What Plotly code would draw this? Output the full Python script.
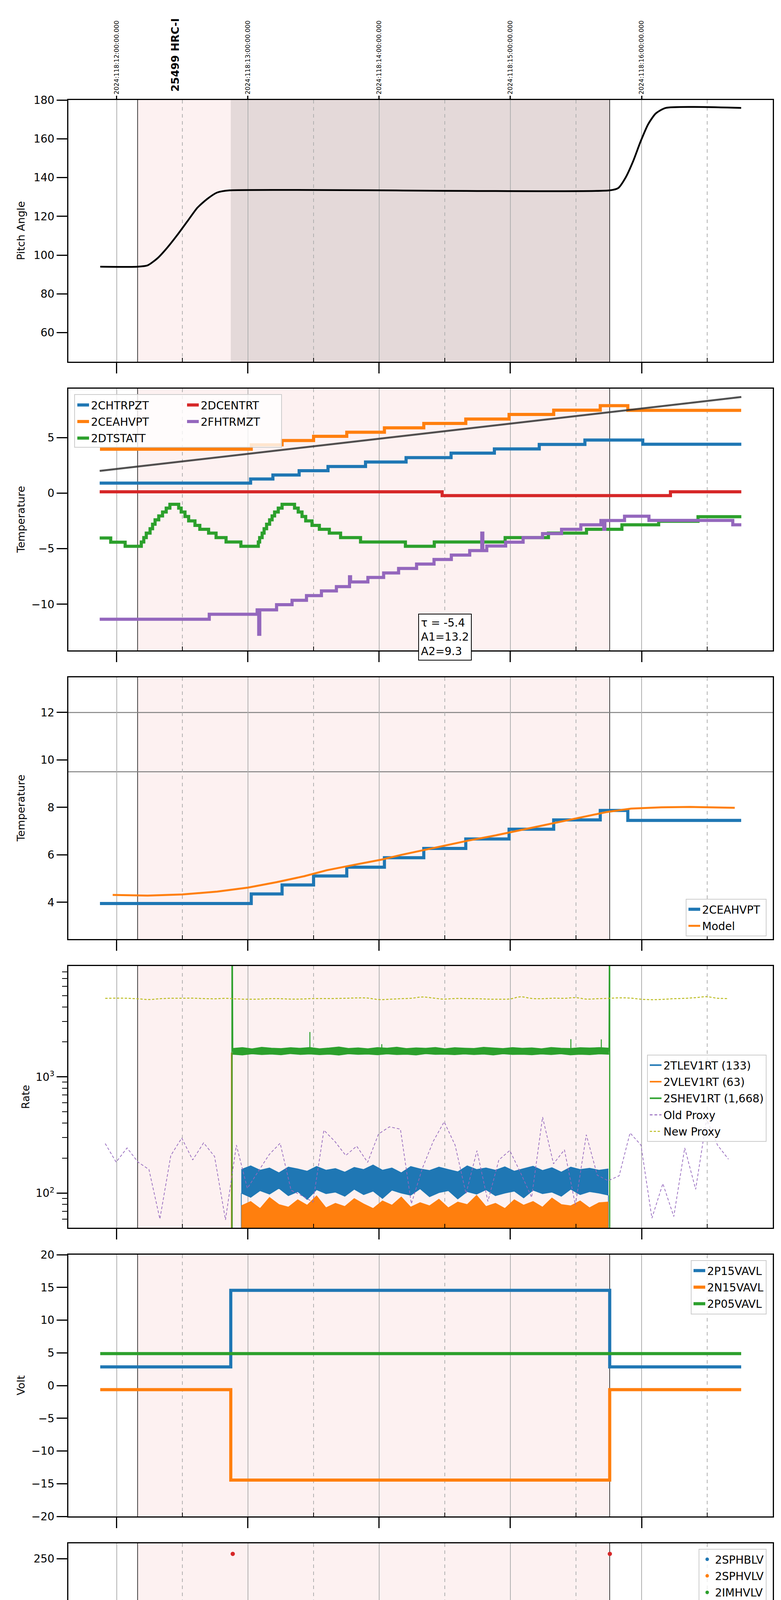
import numpy as np
import plotly.graph_objects as go
from plotly.subplots import make_subplots

# ---------------- time axis (local hours, 2024-04-27) ----------------
x_range = [7.631, 13.0]
hour_ticks = [8, 9, 10, 11, 12]
hour_labels = ['08h', '09h', '10h', '11h', '12h']
half_ticks = [8.5, 9.5, 10.5, 11.5, 12.5]
utc_labels = ['2024:118:12:00:00.000', '2024:118:13:00:00.000', '2024:118:14:00:00.000',
              '2024:118:15:00:00.000', '2024:118:16:00:00.000']
obs_start, obs_stop = 8.159, 11.757
dwell_start = 8.869
obsid_label = '25499 HRC-I'
obsid_t = 8.443

# ---------------- panel 1: pitch ----------------
pitch_t = [7.874, 8.159, 8.235, 8.311, 8.387, 8.463, 8.538, 8.614, 8.690, 8.766, 8.861,
           11.758, 11.822, 11.879, 11.936, 11.993, 12.050, 12.107, 12.183, 12.759]
pitch_v = [94.0, 94.0, 94.7, 98.4, 104.0, 110.5, 117.4, 124.4, 129.0, 132.3, 133.4,
           133.4, 134.6, 140.1, 148.5, 158.7, 167.5, 173.0, 175.9, 175.9]

# ---------------- panel 2: temperatures ----------------
chtrpzt_t = [7.870, 9.020, 9.190, 9.390, 9.610, 9.896, 10.205, 10.548, 10.878, 11.220, 11.568, 12.009, 12.760]
chtrpzt_v = [0.90, 1.27, 1.63, 2.02, 2.40, 2.80, 3.20, 3.60, 3.98, 4.38, 4.78, 4.40, 4.40]
ceahvpt_t = [7.872, 9.025, 9.260, 9.500, 9.753, 10.040, 10.340, 10.660, 10.990, 11.330, 11.685, 11.895, 12.759]
ceahvpt_v = [3.95, 4.35, 4.73, 5.11, 5.48, 5.88, 6.27, 6.67, 7.08, 7.47, 7.87, 7.45, 7.45]
dtstatt_t = [7.870, 7.954, 8.064, 8.187, 8.206, 8.225, 8.254, 8.273, 8.292, 8.320, 8.349, 8.377, 8.405,
             8.472, 8.491, 8.520, 8.548, 8.596, 8.633, 8.700, 8.757, 8.833, 8.946,
             9.079, 9.089, 9.108, 9.123, 9.142, 9.165, 9.184, 9.203, 9.231, 9.260,
             9.355, 9.383, 9.412, 9.440, 9.488, 9.544, 9.620, 9.706, 9.858,
             10.200, 10.420, 10.960, 11.290, 11.580, 11.850, 12.130, 12.430, 12.760]
dtstatt_v = [-4.04, -4.41, -4.78, -4.4, -4.0, -3.6, -3.2, -2.8, -2.4, -2.05, -1.7, -1.35, -1.0,
             -1.35, -1.7, -2.1, -2.5, -2.9, -3.25, -3.6, -4.0, -4.4, -4.78,
             -4.4, -4.0, -3.6, -3.2, -2.8, -2.4, -2.05, -1.7, -1.35, -1.0,
             -1.35, -1.7, -2.1, -2.5, -2.9, -3.25, -3.6, -4.0, -4.4,
             -4.78, -4.4, -4.0, -3.6, -3.25, -2.85, -2.53, -2.12, -2.12]
dcentrt_t = [7.870, 10.480, 12.220, 12.760]
dcentrt_v = [0.12, -0.22, 0.12, 0.12]
fhtrmzt_t = [7.870, 8.705, 9.070, 9.082, 9.090, 9.218, 9.336, 9.446, 9.560, 9.674, 9.774, 9.782,
             9.914, 10.034, 10.148, 10.285, 10.418, 10.550, 10.690, 10.782, 10.790, 10.820, 10.964,
             11.097, 11.245, 11.390, 11.537, 11.690, 11.712, 11.720, 11.870, 12.056, 12.695, 12.760]
fhtrmzt_v = [-11.35, -10.9, -10.5, -12.7, -10.5, -10.04, -9.64, -9.22, -8.80, -8.41, -7.52, -7.99,
             -7.59, -7.18, -6.78, -6.38, -5.97, -5.57, -5.17, -3.6, -5.17, -4.76, -4.41,
             -4.0, -3.64, -3.25, -2.85, -2.46, -3.25, -2.46, -2.08, -2.45, -2.85, -2.85]
trend_t = [7.870, 12.760]
trend_v = [2.0, 8.65]
fit_text = 'τ = -5.4<br>A1=13.2<br>A2=9.3'

# ---------------- panel 3: model ----------------
model_t = [7.969, 8.235, 8.500, 8.765, 9.000, 9.220, 9.430, 9.600, 9.830, 10.020, 10.170, 10.340, 10.510,
           10.680, 10.870, 11.040, 11.210, 11.390, 11.560, 11.730, 11.920, 12.150, 12.370, 12.520, 12.710]
model_v = [4.31, 4.28, 4.33, 4.45, 4.62, 4.85, 5.10, 5.35, 5.60, 5.80, 6.00, 6.20, 6.40,
           6.60, 6.80, 7.00, 7.20, 7.40, 7.60, 7.80, 7.95, 8.00, 8.02, 8.00, 7.98]
limit_levels = [12.0, 9.5]

# ---------------- panel 4: rates ----------------
proxy_t0 = 7.912           # first proxy sample, one sample every 5 minutes
old_proxy = [267, 185, 245, 185, 160, 60, 211, 298, 193, 271,
             207, 59, 259, 110, 154, 215, 269, 106, 95, 84,
             348, 279, 211, 254, 184, 323, 372, 355, 81, 163,
             279, 411, 259, 99, 232, 85, 193, 233, 149, 92,
             451, 179, 236, 79, 318, 143, 128, 141, 330, 259,
             61, 121, 63, 245, 108, 435, 259, 196]
new_proxy = [4730, 4750, 4740, 4690, 4620, 4700, 4740, 4740, 4750, 4710,
             4690, 4730, 4680, 4650, 4660, 4700, 4700, 4660, 4670, 4710,
             4710, 4720, 4740, 4770, 4760, 4620, 4650, 4700, 4740, 4860,
             4760, 4660, 4720, 4710, 4700, 4660, 4650, 4670, 4880, 4720,
             4700, 4750, 4730, 4800, 4660, 4700, 4730, 4780, 4760, 4650,
             4610, 4640, 4700, 4730, 4800, 4890, 4740, 4720]
# envelopes of the noisy rate telemetry
tlev_span = [8.949, 11.747]
tlev_hi = [160, 172, 158, 165, 150, 168, 162, 155, 170, 158, 163, 152, 167, 160, 175, 158, 165, 150, 170, 162,
           157, 168, 160, 153, 172, 160, 165, 158, 169, 155, 163, 171, 157, 166, 152, 168, 160, 164, 158, 162]
tlev_lo = [100, 92, 105, 98, 110, 95, 103, 88, 107, 99, 102, 94, 108, 97, 104, 90, 106, 100, 96, 109,
           93, 101, 105, 89, 103, 98, 107, 95, 100, 104, 91, 106, 99, 102, 94, 108, 97, 103, 100, 96]
vlev_hi = [78, 85, 74, 92, 80, 76, 88, 79, 95, 75, 82, 77, 90, 81, 74, 86, 79, 93, 76, 83,
           78, 89, 75, 84, 80, 96, 77, 82, 74, 88, 79, 85, 76, 91, 80, 78, 86, 75, 83, 84]
shev_span = [8.884, 11.752]
shev_lo = [1560, 1540, 1575, 1550, 1565, 1545, 1580, 1555, 1570, 1548, 1562, 1535, 1575, 1558, 1566, 1544,
           1572, 1552, 1560, 1540, 1578, 1556, 1563, 1547, 1570, 1550, 1566, 1538, 1574, 1555, 1561, 1545,
           1568, 1552, 1576, 1543, 1559, 1549, 1571, 1560]
shev_hi = [1760, 1790, 1745, 1800, 1770, 1755, 1785, 1765, 1795, 1750, 1775, 1810, 1760, 1780, 1750, 1790,
           1770, 1805, 1755, 1780, 1765, 1795, 1750, 1785, 1770, 1760, 1800, 1775, 1755, 1790, 1765, 1780,
           1750, 1795, 1770, 1760, 1785, 1775, 1790, 1770]
shev_spike_t = [9.472, 10.020, 11.461, 11.693]
shev_spike_v = [2430, 1910, 2110, 2100]
shev_edge_t = [8.878, 8.878, 8.884, None, 11.752, 11.757, 11.757]
shev_edge_v = [10, 100000, 1650, None, 1650, 100000, 10]
vlev_edge_t = [8.874, 8.874, 8.880, 8.880]
vlev_edge_v = [40, 1600, 1600, 40]
rate_floor = 40

# ---------------- panel 5: voltages ----------------
volt_t = [7.874, 8.869, 11.757, 12.759]
p15_v = [2.85, 14.55, 2.85, 2.85]
n15_v = [-0.62, -14.45, -0.62, -0.62]
p05_t = [7.874, 12.759]
p05_v = [4.88, 4.88]

# ---------------- panel 6: HV monitors ----------------
imhblv_t = [8.884, 8.890, 8.890, 8.897, 8.899, 8.911, 8.922, 8.933, 8.945, 11.594, 11.632, 11.646, 11.708, 11.758]
imhblv_v = [255, 127, 119, 106, 104, 101, 97, 93, 89, 80, 80, 80, 80, 255]
imhblv_lvl_t = [8.948, 11.758]
imhblv_lvl_v = [86.2, 86.2]
imhvlv_t = [8.888, 8.890, 8.905, 8.916, 8.928, 8.939, 11.583, 11.605, 11.636, 11.704]
imhvlv_v = [100, 98, 95, 90, 86, 83, 127, 127, 127, 127]
imhvlv_lvl_t = [8.950, 11.758]
imhvlv_lvl_v = [79.5, 79.5]

# ---------------- panel 7: detector temps ----------------
spinatm_t = [8.890, 8.892, 9.013, 9.050, 9.089, 9.108, 9.127, 9.146, 9.169, 9.191, 9.214, 9.241, 9.267, 9.290,
             9.336, 9.374, 9.400, 9.431, 9.476, 9.518, 9.575, 9.639, 9.723, 9.852, 10.072,
             11.507, 11.515, 11.530, 11.545, 11.560, 11.575, 11.700, 11.710, 11.720, 11.735]
spinatm_v = [-3, 2.2, 1.65, 2.2, 2.7, 3.2, 3.6, 4.1, 4.6, 5.1, 5.6, 6.2, 6.7, 7.3,
             6.7, 6.2, 5.6, 5.1, 4.6, 4.1, 3.6, 3.2, 2.7, 2.2, 1.75,
             -3, 1.75, -3, 1.75, -3, 1.75, -3, 1.75, -3, -3]
sphvatm_t = [8.869, 9.658, 9.962, 10.158, 10.165, 10.228, 10.512, 10.797, 11.082, 11.268, 11.275, 11.378,
             11.507, 11.520, 11.535, 11.550, 11.565, 11.580, 11.630, 11.637, 11.700, 11.707, 11.720, 11.740]
sphvatm_v = [12.30, 12.64, 12.97, 13.30, 12.97, 13.28, 13.65, 13.99, 14.32, 14.60, 14.32, 14.66,
             8.70, 14.66, 8.70, 14.66, 8.70, 14.66, -3.0, 14.66, -3.0, 14.66, 15.0, 15.0]
iminatm_t = [8.892, 9.279, 10.892, 10.938, 10.944, 11.516, 11.530, 11.550, 11.570, 11.590, 11.610,
             11.630, 11.650, 11.670, 11.690, 11.700, 11.710, 11.735]
iminatm_v = [-0.95, -0.50, -0.05, -0.50, -0.05, 1.75, -0.05, 1.75, -0.05, 1.75, -0.05,
             1.75, -0.05, 1.75, -3.0, 1.75, -0.05, -0.05]
imhvatm_t = [8.871, 8.873, 9.077, 9.203, 9.305, 9.420, 9.552, 9.685, 9.840, 10.008,
             10.140, 10.147, 10.190, 10.390, 10.607, 10.835, 11.101, 11.378,
             11.507, 11.520, 11.535, 11.550, 11.565, 11.580, 11.595, 11.610,
             11.632, 11.640, 11.650, 11.665, 11.690, 11.697, 11.710, 11.725, 11.752, 11.758]
imhvatm_v = [-3.0, 11.64, 11.97, 12.31, 12.64, 12.97, 13.31, 13.65, 13.99, 14.32,
             14.65, 14.32, 14.65, 15.00, 15.34, 15.68, 16.01, 16.35,
             14.60, 16.35, 14.60, 16.35, 14.60, 16.35, 14.60, 16.35,
             -3.0, 16.80, 14.60, 16.80, 8.90, 16.80, 14.60, 16.80, -3.0, 20.0]

# ---------------- panel 8: FEA temps ----------------
fea_fhtrmzt_t = [7.874, 8.698, 9.077, 9.080, 9.214, 9.336, 9.449, 9.556, 9.670, 9.776,
                 9.780, 9.909, 10.030, 10.152, 10.285, 10.415, 10.551, 10.683, 10.783, 10.790,
                 10.968, 11.101, 11.253, 11.393, 11.740, 11.879, 12.061, 12.702, 12.759]
fea_fhtrmzt_v = [-11.34, -10.91, -12.50, -10.48, -10.05, -9.64, -9.22, -8.80, -8.39, -7.60,
                 -7.95, -7.57, -7.17, -6.78, -6.37, -5.98, -5.57, -5.18, -3.62, -4.81,
                 -4.42, -4.03, -3.66, -3.25, -2.51, -2.12, -2.51, -2.88, -2.88]
fradpyt_t = [9.174, 9.176, 9.305, 9.423, 9.545, 9.658, 9.780, 9.917, 10.045, 10.182, 10.315,
             10.463, 10.596, 10.747, 10.899, 11.051, 11.203, 11.359, 11.522, 11.700, 12.207, 12.759]
fradpyt_v = [-13.0, -11.77, -11.34, -10.91, -10.48, -10.05, -9.64, -9.22, -8.80, -8.39, -7.99,
             -7.57, -7.18, -6.78, -6.37, -5.98, -5.59, -5.20, -4.81, -4.42, -4.81, -4.81]
fepratm_t = [8.867, 8.869, 8.918, 8.956, 9.002, 9.051, 9.108, 9.188, 9.283, 9.385,
             9.488, 9.601, 9.715, 9.829, 9.951, 10.083, 10.208, 10.353, 10.490, 10.634,
             10.786, 10.938, 11.097, 11.264, 11.431, 11.518, 11.530, 11.545, 11.560, 11.575,
             11.590, 11.605, 11.620, 11.640, 11.660, 11.680, 11.700, 11.720, 11.735]
fepratm_v = [-13.0, -11.13, -10.71, -10.26, -9.82, -9.39, -8.96, -8.53, -8.10, -7.70,
             -7.28, -6.86, -6.45, -6.02, -5.61, -5.20, -4.79, -4.38, -3.96, -3.53,
             -3.09, -2.69, -2.26, -1.84, -1.38, -6.04, -1.38, -6.04, -1.38, -6.04,
             -1.38, -6.04, -1.38, -6.04, -1.38, -6.50, -1.38, -6.04, -6.04]
fe00atm_t = [8.956, 9.089, 9.185, 9.259, 9.354, 9.449, 9.533, 9.563, 9.567, 9.620,
             9.715, 9.780, 9.784, 9.810, 9.913, 10.008, 10.106, 10.208, 10.315, 10.417,
             10.524, 10.613, 10.616, 10.747, 10.860, 10.979, 11.101, 11.222, 11.348, 11.469,
             11.520, 11.535, 11.550, 11.565, 11.580, 11.595, 11.610, 11.625, 11.632, 11.640,
             11.655, 11.670, 11.685, 11.700, 11.710, 11.725, 11.740, 11.752, 11.758]
fe00atm_v = [-11.90, -11.55, -11.18, -10.81, -10.43, -10.05, -9.66, -10.90, -9.66, -9.29,
             -8.92, -8.60, -8.92, -8.55, -8.18, -7.83, -7.46, -7.11, -6.76, -6.39,
             -6.05, -5.00, -5.70, -5.35, -5.00, -4.66, -4.31, -3.97, -3.64, -3.31,
             -1.00, -3.35, -1.00, -3.35, -1.00, -3.35, -1.00, -3.35, -13.0, -1.00,
             -3.35, -1.00, -3.35, -13.0, -1.00, -2.00, -1.00, -13.0, 0.0]

# ---------------- page geometry ----------------
W, H = 2000, 6200
L, R, T, B = 167, 29, 248, 109
PW, PH = W - L - R, H - T - B
PANEL_H, GAP = 670, 69


def px(x):
    return (x - L) / PW


def py(y):
    return (H - B - y) / PH


C_BLUE, C_ORANGE, C_GREEN, C_RED, C_PURPLE, C_OLIVE = '#1f77b4', '#ff7f0e', '#2ca02c', '#d62728', '#9467bd', '#bcbd22'
FONT = 'DejaVu Sans'

fig = make_subplots(rows=8, cols=1, vertical_spacing=GAP / PH)


def step(t, v, color, name, row, legend=None, width=8, show=True):
    fig.add_trace(go.Scatter(x=t, y=v, mode='lines', line=dict(color=color, width=width, shape='hv'),
                             name=name, legend=legend, legendgroup=name, showlegend=show), row=row, col=1)


# panel 1
fig.add_trace(go.Scatter(x=pitch_t, y=pitch_v, mode='lines', showlegend=False,
                         line=dict(color='black', width=4.5, shape='spline', smoothing=0.6)), row=1, col=1)

# panel 2
step(chtrpzt_t, chtrpzt_v, C_BLUE, '2CHTRPZT', 2, 'legend')
step(ceahvpt_t, ceahvpt_v, C_ORANGE, '2CEAHVPT', 2, 'legend')
step(dtstatt_t, dtstatt_v, C_GREEN, '2DTSTATT', 2, 'legend')
step(dcentrt_t, dcentrt_v, C_RED, '2DCENTRT', 2, 'legend2')
step(fhtrmzt_t, fhtrmzt_v, C_PURPLE, '2FHTRMZT', 2, 'legend2')
fig.add_trace(go.Scatter(x=trend_t, y=trend_v, mode='lines', showlegend=False,
                         line=dict(color='rgba(50,50,50,0.85)', width=5)), row=2, col=1)

# panel 3
step(ceahvpt_t, ceahvpt_v, C_BLUE, '2CEAHVPT ', 3, 'legend3')
fig.add_trace(go.Scatter(x=model_t, y=model_v, mode='lines', name='Model', legend='legend3',
                         legendgroup='model', line=dict(color=C_ORANGE, width=5)), row=3, col=1)

# panel 4 (rate): noisy telemetry drawn as envelopes
tg = np.linspace(tlev_span[0], tlev_span[1], len(tlev_hi))
sg = np.linspace(shev_span[0], shev_span[1], len(shev_hi))
fig.add_trace(go.Scatter(x=tg, y=tlev_lo, mode='lines', line=dict(color=C_BLUE, width=1.5),
                         showlegend=False), row=4, col=1)
fig.add_trace(go.Scatter(x=tg, y=tlev_hi, mode='lines', line=dict(color=C_BLUE, width=1.5),
                         fill='tonexty', fillcolor=C_BLUE, showlegend=False), row=4, col=1)
fig.add_trace(go.Scatter(x=[tlev_span[0], tlev_span[0], None, tlev_span[1], tlev_span[1]],
                         y=[rate_floor, tlev_lo[0], None, tlev_lo[-1], rate_floor], mode='lines',
                         line=dict(color=C_BLUE, width=2), showlegend=False), row=4, col=1)
fig.add_trace(go.Scatter(x=[tlev_span[0], tlev_span[1]], y=[rate_floor, rate_floor], mode='lines',
                         line=dict(color=C_ORANGE, width=1), showlegend=False), row=4, col=1)
fig.add_trace(go.Scatter(x=tg, y=vlev_hi, mode='lines', line=dict(color=C_ORANGE, width=1.5),
                         fill='tonexty', fillcolor=C_ORANGE, showlegend=False), row=4, col=1)
fig.add_trace(go.Scatter(x=vlev_edge_t, y=vlev_edge_v, mode='lines', line=dict(color=C_ORANGE, width=2.5),
                         showlegend=False), row=4, col=1)
fig.add_trace(go.Scatter(x=sg, y=shev_lo, mode='lines', line=dict(color=C_GREEN, width=1.5),
                         showlegend=False), row=4, col=1)
fig.add_trace(go.Scatter(x=sg, y=shev_hi, mode='lines', line=dict(color=C_GREEN, width=1.5),
                         fill='tonexty', fillcolor=C_GREEN, showlegend=False), row=4, col=1)
spx, spy = [], []
for t, v in zip(shev_spike_t, shev_spike_v):
    spx += [t, t, None]
    spy += [1700, v, None]
fig.add_trace(go.Scatter(x=spx, y=spy, mode='lines', line=dict(color=C_GREEN, width=2.5),
                         showlegend=False), row=4, col=1)
fig.add_trace(go.Scatter(x=shev_edge_t, y=shev_edge_v, mode='lines', line=dict(color=C_GREEN, width=3),
                         showlegend=False), row=4, col=1)
proxy_t = proxy_t0 + np.arange(len(old_proxy)) * 5 / 60
fig.add_trace(go.Scatter(x=proxy_t, y=old_proxy, mode='lines', showlegend=False,
                         line=dict(color=C_PURPLE, width=1.8, dash='7px,5px')), row=4, col=1)
fig.add_trace(go.Scatter(x=proxy_t, y=new_proxy, mode='lines', showlegend=False,
                         line=dict(color=C_OLIVE, width=2.5, dash='6px,4px', shape='spline')), row=4, col=1)
for name, color, dash in [('2TLEV1RT (133)', C_BLUE, 'solid'), ('2VLEV1RT (63)', C_ORANGE, 'solid'),
                          ('2SHEV1RT (1,668)', C_GREEN, 'solid'), ('Old Proxy', C_PURPLE, '7px,5px'),
                          ('New Proxy', C_OLIVE, '6px,4px')]:
    fig.add_trace(go.Scatter(x=[None], y=[None], mode='lines', name=name, legend='legend4', legendgroup=name,
                             line=dict(color=color, width=4 if dash == 'solid' else 2.5, dash=dash)),
                  row=4, col=1)

# panel 5
step(volt_t, p15_v, C_BLUE, '2P15VAVL', 5, 'legend5')
step(volt_t, n15_v, C_ORANGE, '2N15VAVL', 5, 'legend5')
step(p05_t, p05_v, C_GREEN, '2P05VAVL', 5, 'legend5')

# panel 6
for name, color in [('2SPHBLV', C_BLUE), ('2SPHVLV', C_ORANGE), ('2IMHVLV', C_GREEN), ('2IMHBLV', C_RED)]:
    fig.add_trace(go.Scatter(x=[None], y=[None], mode='markers', name=name, legend='legend6', legendgroup=name,
                             marker=dict(color=color, size=9)), row=6, col=1)
fig.add_trace(go.Scatter(x=imhvlv_lvl_t, y=imhvlv_lvl_v, mode='lines', line=dict(color=C_GREEN, width=12),
                         showlegend=False), row=6, col=1)
fig.add_trace(go.Scatter(x=imhvlv_t, y=imhvlv_v, mode='markers', marker=dict(color=C_GREEN, size=11),
                         showlegend=False), row=6, col=1)
fig.add_trace(go.Scatter(x=imhblv_lvl_t, y=imhblv_lvl_v, mode='lines', line=dict(color=C_RED, width=11),
                         showlegend=False), row=6, col=1)
fig.add_trace(go.Scatter(x=imhblv_t, y=imhblv_v, mode='markers', marker=dict(color=C_RED, size=11),
                         showlegend=False), row=6, col=1)

# panel 7
step(spinatm_t, spinatm_v, C_BLUE, '2SPINATM', 7, 'legend7')
step(sphvatm_t, sphvatm_v, C_ORANGE, '2SPHVATM', 7, 'legend7')
step(iminatm_t, iminatm_v, C_GREEN, '2IMINATM', 7, 'legend7')
step(imhvatm_t, imhvatm_v, C_RED, '2IMHVATM', 7, 'legend7')

# panel 8
step(fea_fhtrmzt_t, fea_fhtrmzt_v, C_BLUE, '2FHTRMZT ', 8, 'legend8')
step(fradpyt_t, fradpyt_v, C_ORANGE, '2FRADPYT', 8, 'legend8')
step(fepratm_t, fepratm_v, C_GREEN, '2FEPRATM', 8, 'legend8')
step(fe00atm_t, fe00atm_v, C_RED, '2FE00ATM', 8, 'legend8')

# top axis carrying the UTC labels
fig.add_trace(go.Scatter(x=[None], y=[None], xaxis='x9', yaxis='y', showlegend=False))

# ---------------- axes ----------------
fig.update_xaxes(range=x_range, tickmode='array', tickvals=hour_ticks, ticktext=hour_labels,
                 ticks='outside', ticklen=27, tickwidth=3, tickcolor='black', showticklabels=False,
                 showline=True, linecolor='black', linewidth=3, mirror=True, zeroline=False,
                 showgrid=True, gridcolor='#b0b0b0', gridwidth=1.5,
                 minor=dict(tickmode='array', tickvals=half_ticks, ticks='inside', ticklen=10, tickwidth=2,
                            tickcolor='black', showgrid=True, gridcolor='#b0b0b0', gridwidth=1.5, griddash='dash'))
fig.update_xaxes(showticklabels=True, tickfont=dict(size=28), row=8, col=1)
fig.update_yaxes(ticks='outside', ticklen=27, tickwidth=3, tickcolor='black', showline=True, linecolor='black',
                 linewidth=3, mirror=True, showgrid=False, zeroline=False, tickfont=dict(size=28))
fig.update_yaxes(range=[45, 180], tickvals=[60, 80, 100, 120, 140, 160, 180], row=1, col=1)
fig.update_yaxes(range=[-14.15, 9.4], tickvals=[-10, -5, 0, 5], row=2, col=1)
fig.update_yaxes(range=[2.45, 13.48], tickvals=[4, 6, 8, 10, 12], row=3, col=1)
fig.update_yaxes(type='log', range=[1.703, 3.953], tickmode='array', tickvals=[100, 1000],
                 ticktext=['10<sup>2</sup>', '10<sup>3</sup>'],
                 minor=dict(tickmode='array', ticks='outside', ticklen=13, tickwidth=2, tickcolor='black',
                            tickvals=[60, 70, 80, 90, 200, 300, 400, 500, 600, 700, 800, 900,
                                      2000, 3000, 4000, 5000, 6000, 7000, 8000]),
                 row=4, col=1)
fig.update_yaxes(range=[-20, 20], tickvals=[-20, -15, -10, -5, 0, 5, 10, 15, 20], row=5, col=1)
fig.update_yaxes(range=[0, 265.7], tickvals=[0, 50, 100, 150, 200, 250], row=6, col=1)
fig.update_yaxes(range=[-2.0, 17.15], tickvals=[0, 2.5, 5, 7.5, 10, 12.5, 15], tickformat='.1f', row=7, col=1)
fig.update_yaxes(range=[-11.98, -1.19], tickvals=[-10, -8, -6, -4, -2], row=8, col=1)

# ---------------- shading, markers ----------------
shapes = []
for i in range(1, 9):
    xr = 'x' if i == 1 else f'x{i}'
    yd = 'y domain' if i == 1 else f'y{i} domain'
    shapes.append(dict(type='rect', xref=xr, yref=yd, x0=obs_start, x1=obs_stop, y0=0, y1=1,
                       fillcolor='rgb(253,241,241)', line=dict(width=0), layer='below'))
    if i == 1:
        shapes.append(dict(type='rect', xref=xr, yref=yd, x0=dwell_start, x1=obs_stop, y0=0, y1=1,
                           fillcolor='rgb(228,217,217)', line=dict(width=0), layer='below'))
    for xv in (obs_start, obs_stop):
        shapes.append(dict(type='line', xref=xr, yref=yd, x0=xv, x1=xv, y0=0, y1=1,
                           line=dict(color='black', width=1.5), layer='below'))
for lv in limit_levels:
    shapes.append(dict(type='line', xref='x3 domain', yref='y3', x0=0, x1=1, y0=lv, y1=lv,
                       line=dict(color='#808080', width=2.5), layer='below'))
# frame of the two-column legend of panel 2
shapes.append(dict(type='rect', xref='paper', yref='paper', x0=px(183), x1=px(713), y0=py(1137), y1=py(1002),
                   fillcolor='rgba(255,255,255,0.8)', line=dict(color='#cccccc', width=2), layer='above'))

# ---------------- annotations ----------------
ann = []
y_titles = ['Pitch Angle', 'Temperature', 'Temperature', 'Rate', 'Volt', 'HV Monitor', 'Detector Temp', 'FEA Temp']
y_title_x = [45, 45, 45, 57, 45, 51, 41, 45]
for i, (txt, tx) in enumerate(zip(y_titles, y_title_x)):
    cy = T + i * (PANEL_H + GAP) + PANEL_H / 2
    ann.append(dict(text=txt, xref='paper', yref='paper', x=px(tx), y=py(cy), textangle=-90,
                    showarrow=False, xanchor='center', yanchor='middle', font=dict(size=27)))
ann.append(dict(text=f'<b>{obsid_label}</b>', xref='x', yref='paper', x=obsid_t, y=py(229), textangle=-90,
                showarrow=False, xanchor='center', yanchor='bottom', font=dict(size=27)))
ann.append(dict(text=fit_text, xref='paper', yref='paper', x=px(1131), y=py(1623), showarrow=False,
                align='left', xanchor='center', yanchor='middle', bgcolor='white', bordercolor='black',
                borderwidth=2, borderpad=5, font=dict(size=28)))
for hv in half_ticks:
    ann.append(dict(text='30', xref='x8', yref='paper', x=hv, y=py(6097), showarrow=False,
                    xanchor='center', yanchor='top', font=dict(size=19)))
ann.append(dict(text='2024-04-27 (118)', xref='paper', yref='paper', x=0.5, y=py(6182), showarrow=False,
                xanchor='center', yanchor='middle', font=dict(size=34)))

leg = dict(font=dict(size=28), bgcolor='rgba(255,255,255,0.8)', bordercolor='#cccccc', borderwidth=2,
           tracegroupgap=3)
leg_plain = dict(font=dict(size=28), bgcolor='rgba(0,0,0,0)', borderwidth=0, tracegroupgap=3,
                 xanchor='left', yanchor='top')

fig.update_layout(
    width=W, height=H, margin=dict(l=L, r=R, t=T, b=B),
    plot_bgcolor='white', paper_bgcolor='white',
    font=dict(family=FONT, size=28, color='black'),
    shapes=shapes, annotations=ann,
    xaxis9=dict(overlaying='x', side='top', anchor='y', range=x_range, tickmode='array', tickvals=hour_ticks,
                ticktext=utc_labels, tickangle=-90, tickfont=dict(size=16), ticks='outside', ticklen=10,
                tickwidth=2.5, tickcolor='black', showgrid=False, showline=False, zeroline=False),
    legend=dict(leg_plain, x=px(185), y=py(1004)),
    legend2=dict(leg_plain, x=px(466), y=py(1004)),
    legend3=dict(leg, x=px(1955), y=py(2389), xanchor='right', yanchor='bottom'),
    legend4=dict(leg, x=px(1955), y=py(2692), xanchor='right', yanchor='top'),
    legend5=dict(leg, x=px(1955), y=py(3218), xanchor='right', yanchor='top'),
    legend6=dict(leg, x=px(1955), y=py(3957), xanchor='right', yanchor='top'),
    legend7=dict(leg, x=px(1955), y=py(4694), xanchor='right', yanchor='top'),
    legend8=dict(leg, x=px(1955), y=py(6078), xanchor='right', yanchor='bottom'),
)

fig.write_html('out.html')
